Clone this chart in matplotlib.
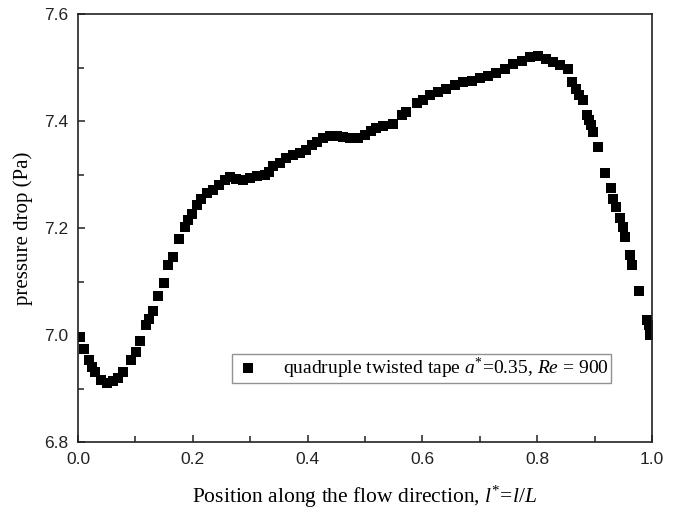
import numpy as np
import matplotlib.pyplot as plt
from matplotlib.ticker import MultipleLocator

# -----------------------------
# Data
# position l* = l/L  |  pressure drop (Pa)
# -----------------------------
position = [
    0.003, 0.010, 0.020, 0.025, 0.030, 0.040, 0.050, 0.061, 0.070, 0.079,
    0.092, 0.101, 0.108, 0.118, 0.124, 0.131, 0.140, 0.149, 0.157, 0.165,
    0.176, 0.186, 0.192, 0.198, 0.207, 0.215, 0.224, 0.236, 0.246, 0.256,
    0.265, 0.276, 0.288, 0.300, 0.311, 0.326, 0.333, 0.340, 0.352, 0.363,
    0.375, 0.387, 0.398, 0.407, 0.416, 0.427, 0.439, 0.451, 0.462, 0.474,
    0.488, 0.500, 0.511, 0.520, 0.532, 0.549, 0.564, 0.572, 0.590, 0.601,
    0.613, 0.627, 0.642, 0.657, 0.671, 0.686, 0.700, 0.715, 0.729, 0.744,
    0.758, 0.773, 0.787, 0.802, 0.816, 0.828, 0.840, 0.854, 0.861, 0.867,
    0.873, 0.879, 0.886, 0.890, 0.894, 0.898, 0.906, 0.919, 0.928, 0.932,
    0.937, 0.944, 0.949, 0.953, 0.961, 0.966, 0.977, 0.991, 0.995, 0.996,
]
pressure_drop = [
    6.997, 6.973, 6.953, 6.941, 6.930, 6.916, 6.911, 6.914, 6.919, 6.930,
    6.953, 6.969, 6.989, 7.019, 7.030, 7.044, 7.072, 7.097, 7.131, 7.145,
    7.179, 7.202, 7.215, 7.227, 7.243, 7.255, 7.265, 7.271, 7.280, 7.290,
    7.295, 7.292, 7.290, 7.293, 7.297, 7.299, 7.305, 7.315, 7.322, 7.330,
    7.336, 7.340, 7.346, 7.355, 7.361, 7.369, 7.372, 7.372, 7.370, 7.368,
    7.368, 7.374, 7.382, 7.386, 7.391, 7.394, 7.411, 7.417, 7.433, 7.440,
    7.449, 7.455, 7.459, 7.467, 7.472, 7.475, 7.480, 7.484, 7.490, 7.498,
    7.507, 7.512, 7.519, 7.521, 7.515, 7.511, 7.505, 7.497, 7.472, 7.459,
    7.449, 7.439, 7.411, 7.402, 7.393, 7.380, 7.352, 7.303, 7.274, 7.255,
    7.240, 7.218, 7.202, 7.183, 7.150, 7.131, 7.083, 7.028, 7.019, 7.000,
]

label = r"quadruple twisted tape $a^{*}$=0.35, $Re$ = 900"

# -----------------------------
# Plot
# -----------------------------
plt.rcParams['mathtext.fontset'] = 'custom'
plt.rcParams['mathtext.rm'] = 'Liberation Serif'
plt.rcParams['mathtext.it'] = 'Liberation Serif:italic'

fig = plt.figure(figsize=(6.8, 5.11), dpi=100)
ax = fig.add_axes([0.1147, 0.135, 0.8441, 0.8376])

ax.plot(position, pressure_drop, 's', color='black', markersize=6.5,
        markeredgewidth=0, label=label)

ax.set_xlim(0.0, 1.0)
ax.set_ylim(6.8, 7.6)
ax.xaxis.set_major_locator(MultipleLocator(0.2))
ax.xaxis.set_minor_locator(MultipleLocator(0.1))
ax.yaxis.set_major_locator(MultipleLocator(0.2))
ax.yaxis.set_minor_locator(MultipleLocator(0.1))
ax.xaxis.set_major_formatter(plt.FormatStrFormatter('%.1f'))
ax.yaxis.set_major_formatter(plt.FormatStrFormatter('%.1f'))

ax.tick_params(which='both', direction='in', top=False, right=False,
               width=1.1, colors='#222222')
ax.tick_params(which='major', length=5, labelsize=12.5, pad=7)
ax.tick_params(which='minor', length=4)
for lbl in ax.get_xticklabels() + ax.get_yticklabels():
    lbl.set_fontfamily('Liberation Sans')
for s in ax.spines.values():
    s.set_linewidth(1.2)
    s.set_color('#222222')

ax.set_xlabel(r"Position along the flow direction, $l^{*}$=$l/L$",
              family='Liberation Serif', fontsize=15.5, labelpad=12)
ax.set_ylabel("pressure drop (Pa)", family='Liberation Serif',
              fontsize=15, labelpad=8)

ax.legend(loc='lower right', bbox_to_anchor=(0.928, 0.137),
          prop={'family': 'Liberation Serif', 'size': 14},
          frameon=True, fancybox=False, edgecolor='#777777',
          borderpad=0.1, handletextpad=1.1, handlelength=1.4,
          borderaxespad=0)

plt.savefig("out.png", dpi=100)
